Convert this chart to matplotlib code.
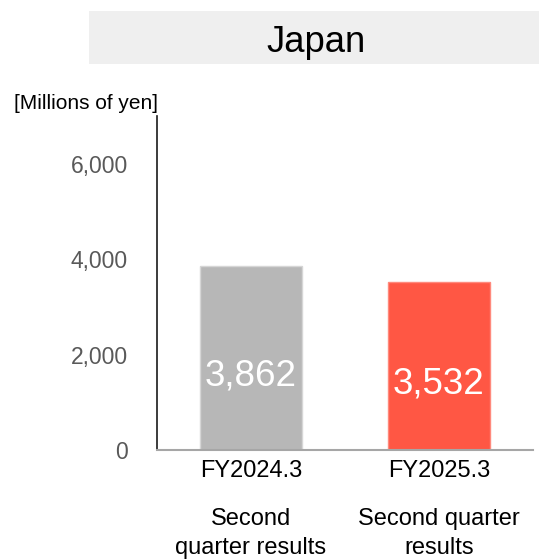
import matplotlib
matplotlib.use("Agg")
import matplotlib.pyplot as plt
from matplotlib.patches import Rectangle

plt.rcParams['font.family'] = ['Liberation Sans', 'DejaVu Sans']

# data
periods = ['FY2024.3', 'FY2025.3']
period_notes = ['Second\nquarter results', 'Second quarter\nresults']
sales = [3862, 3532]
bar_colors = ['#b7b7b7', '#ff5744']
edge_colors = ['#d6d6d6', '#ff8a7d']
yticks = [0, 2000, 4000, 6000]

fig = plt.figure(figsize=(5.39, 5.60), dpi=100)
ax = fig.add_axes([0.2909, 0.1964, 0.698, 0.5959])

x = list(range(len(periods)))
ax.bar(x, sales, width=0.542, color=bar_colors, edgecolor=edge_colors, linewidth=1)

ax.set_xlim(-0.5, 1.5)
ax.set_ylim(0, 7000)
ax.set_yticks(yticks)
ax.set_yticklabels([f'{v:,}' for v in yticks])
ax.set_xticks([])
ax.tick_params(axis='y', length=0, pad=21, labelsize=16.5, labelcolor='#595959')

for side in ['top', 'right']:
    ax.spines[side].set_visible(False)
ax.spines['left'].set_color('#1a1a1a')
ax.spines['left'].set_linewidth(1.2)
ax.spines['bottom'].set_color('#a6a6a6')
ax.spines['bottom'].set_linewidth(1.5)

# value labels inside bars
for i, v in enumerate(sales):
    ax.annotate(f'{v:,}', xy=(i, v / 2), xytext=(0, -28), textcoords='offset pixels',
                ha='center', va='baseline', fontsize=26.5, color='white')

# period labels under the axis
for i, (p, note) in enumerate(zip(periods, period_notes)):
    ax.annotate(p, xy=(i, 0), xytext=(0, -21), textcoords='offset pixels',
                ha='center', va='center', fontsize=17, color='black',
                annotation_clip=False)
    first, second = note.split('\n')
    ax.annotate(first, xy=(i, 0), xytext=(0, -69), textcoords='offset pixels',
                ha='center', va='center', fontsize=17, color='black',
                annotation_clip=False)
    ax.annotate(second, xy=(i, 0), xytext=(0, -98), textcoords='offset pixels',
                ha='center', va='center', fontsize=17, color='black',
                annotation_clip=False)

# title band
fig.patches.append(Rectangle((0.1646, 0.8857), 0.84, 0.0947, transform=fig.transFigure,
                             facecolor='#efefef', edgecolor='none', zorder=0))
fig.text(0.586, 0.908, 'Japan', ha='center', va='baseline', fontsize=26.3, color='black')

fig.text(0.0267, 0.816, '[Millions of yen]', ha='left', va='center', fontsize=15, color='black')

fig.savefig('out.png', dpi=100)
